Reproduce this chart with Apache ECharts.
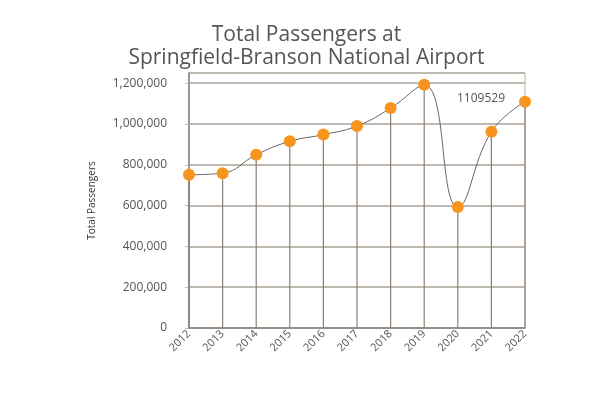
<!DOCTYPE html>
<html>
<head>
<meta charset="utf-8">
<script src="https://cdn.jsdelivr.net/npm/echarts@6/dist/echarts.min.js"></script>
<style>
  html, body { margin: 0; padding: 0; background: #fff; }
  #chart { width: 613px; height: 397px; }
</style>
</head>
<body>
<div id="chart"></div>
<script>
const years = ["2012", "2013", "2014", "2015", "2016", "2017", "2018", "2019", "2020", "2021", "2022"]
const passengers = [751000, 759000, 849000, 915000, 948000, 990000, 1078000, 1192000, 593000, 962000, 1109529]
const titleLines = ["Total Passengers at", "Springfield-Branson National Airport"]
const yAxisName = "Total Passengers"

const font = "Open Sans"
const chart = echarts.init(document.getElementById("chart"))

// only the last point carries its value label
const lineData = passengers.map((v, i) =>
  i === passengers.length - 1
    ? {
        value: v,
        label: {
          show: true,
          position: "left",
          distance: 14,
          offset: [0, -3],
          color: "#555",
          fontFamily: font,
          fontSize: 12,
          formatter: (p) => String(p.value),
        },
      }
    : v
)

chart.setOption({
  animation: false,
  title: {
    text: titleLines.join("\n"),
    left: "center",
    top: 19,
    textStyle: {
      fontFamily: font,
      fontWeight: "normal",
      fontSize: 21,
      lineHeight: 23,
      color: "#555",
    },
  },
  grid: {
    left: 189,
    right: 88,
    top: 73,
    bottom: 69,
    show: true,
    borderColor: "#b8b0a8",
    borderWidth: 1,
  },
  xAxis: {
    type: "category",
    data: years,
    boundaryGap: false,
    axisLine: { lineStyle: { color: "#8a8077", width: 1.5 } },
    axisTick: { show: false },
    splitLine: { show: false },
    axisLabel: {
      rotate: 45,
      margin: 4,
      color: "#555",
      fontFamily: font,
      fontSize: 11,
    },
  },
  yAxis: {
    type: "value",
    min: 0,
    max: 1250000,
    interval: 200000,
    name: yAxisName,
    nameLocation: "middle",
    nameRotate: 90,
    nameGap: 92,
    nameTextStyle: { color: "#333", fontFamily: font, fontSize: 10 },
    axisLine: { show: true, lineStyle: { color: "#8a8077", width: 1.5 } },
    axisTick: { show: true, length: 4, lineStyle: { color: "#c0b9b2" } },
    splitLine: { lineStyle: { color: "#c0b9b2", width: 2 } },
    axisLabel: {
      showMaxLabel: false,
      margin: 22,
      color: "#555",
      fontFamily: font,
      fontSize: 12,
      formatter: (v) => (v === 0 ? "0" : v.toLocaleString("en-US")),
    },
  },
  series: [
    {
      name: "drop",
      type: "bar",
      data: passengers,
      barWidth: 1.2,
      itemStyle: { color: "#8a8077" },
      silent: true,
    },
    {
      name: "Total Passengers",
      type: "line",
      data: lineData,
      smooth: 0.45,
      symbol: "circle",
      symbolSize: 12,
      lineStyle: { color: "#666", width: 1 },
      itemStyle: { color: "#f7941d", borderWidth: 0 },
      z: 5,
    },
  ],
})
</script>
</body>
</html>
